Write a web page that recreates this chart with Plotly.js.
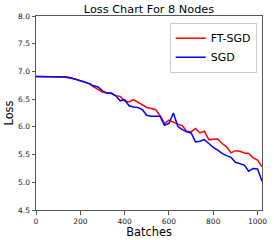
<!DOCTYPE html>
<html>
<head>
<meta charset="utf-8">
<script src="https://cdn.plot.ly/plotly-3.0.1.min.js"></script>
<style>html,body{margin:0;padding:0;background:#fff;}#chart{width:274px;height:240px;}</style>
</head>
<body>
<div id="chart"></div>
<script>
const batches = [0,20,40,60,80,100,120,140,160,180,200,220,240,260,280,300,320,340,360,380,400,420,440,460,480,500,520,540,560,580,600,620,640,660,680,700,720,740,760,780,800,820,840,860,880,900,920,940,960,980,1000,1020];
const ftsgdLoss = [6.91,6.91,6.90,6.90,6.90,6.90,6.90,6.89,6.88,6.86,6.83,6.80,6.78,6.72,6.68,6.63,6.61,6.60,6.56,6.55,6.47,6.45,6.49,6.44,6.40,6.35,6.33,6.31,6.20,6.06,6.12,6.08,6.05,6.02,5.92,5.91,5.97,5.89,5.92,5.77,5.78,5.78,5.70,5.64,5.53,5.57,5.56,5.53,5.52,5.44,5.40,5.28];
const sgdLoss = [6.91,6.91,6.91,6.90,6.90,6.90,6.90,6.90,6.88,6.86,6.83,6.81,6.78,6.74,6.72,6.65,6.61,6.61,6.56,6.47,6.49,6.38,6.36,6.35,6.31,6.21,6.19,6.19,6.19,6.03,6.06,6.25,6.01,5.95,5.91,5.89,5.73,5.74,5.77,5.70,5.63,5.58,5.52,5.48,5.45,5.36,5.34,5.31,5.20,5.25,5.24,5.02];
const seriesNames = ["FT-SGD","SGD"];
const xTickVals = [0,200,400,600,800,1000];
const yTickVals = [4.5,5.0,5.5,6.0,6.5,7.0,7.5,8.0];

const font = "DejaVu Sans, sans-serif";
const traces = [
  {x: batches, y: ftsgdLoss, name: seriesNames[0], type: "scatter", mode: "lines", line: {color: "#ff0000", width: 1.5}},
  {x: batches, y: sgdLoss, name: seriesNames[1], type: "scatter", mode: "lines", line: {color: "#0000ff", width: 1.5}}
];
const axisCommon = {
  showgrid: false, zeroline: false, showline: true, mirror: true,
  linecolor: "#555", linewidth: 1, ticks: "outside", ticklen: 3.5, tickwidth: 1, tickcolor: "#555",
  tickfont: {family: font, size: 7.5, color: "#222"}
};
const layout = {
  width: 274, height: 240,
  margin: {l: 36, r: 12, t: 16, b: 30},
  paper_bgcolor: "#fff", plot_bgcolor: "#fff",
  title: {text: "Loss Chart For 8 Nodes", font: {family: font, size: 11.3, color: "#000"}, xref: "paper", x: 0.5, xanchor: "center", y: 0.962, yanchor: "middle"},
  xaxis: Object.assign({}, axisCommon, {range: [0, 1020], tickvals: xTickVals, ticktext: xTickVals.map(String),
    title: {text: "Batches", font: {family: font, size: 11.4, color: "#000"}, standoff: 0}}),
  yaxis: Object.assign({}, axisCommon, {range: [4.5, 8.0], tickvals: yTickVals, ticktext: yTickVals.map(v => v.toFixed(1)),
    title: {text: "Loss", font: {family: font, size: 11.4, color: "#000"}, standoff: 2}}),
  legend: {x: 0.9765, xanchor: "right", y: 0.9655, yanchor: "top", bgcolor: "#fff", bordercolor: "#ccc", borderwidth: 1,
    font: {family: font, size: 11, color: "#000"}, itemwidth: 30, tracegroupgap: 0},
  showlegend: true
};
Plotly.newPlot("chart", traces, layout, {displayModeBar: false, staticPlot: true});
</script>
</body>
</html>
